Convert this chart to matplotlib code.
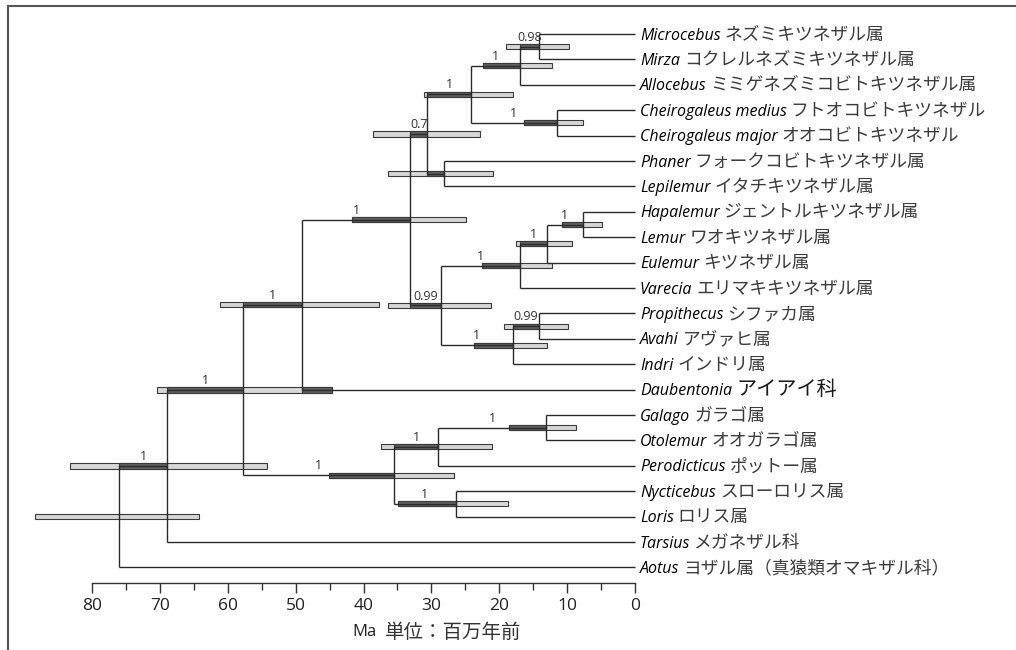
import matplotlib
matplotlib.use("Agg")
import matplotlib.pyplot as plt
from matplotlib.patches import Rectangle
from matplotlib.lines import Line2D
from matplotlib.ticker import FixedLocator

# ---------------- data ----------------
genus = ["Microcebus", "Mirza", "Allocebus", "Cheirogaleus medius",
         "Cheirogaleus major", "Phaner", "Lepilemur", "Hapalemur", "Lemur",
         "Eulemur", "Varecia", "Propithecus", "Avahi", "Indri", "Daubentonia",
         "Galago", "Otolemur", "Perodicticus", "Nycticebus", "Loris",
         "Tarsius", "Aotus"]
japanese = ["ネズミキツネザル属", "コクレルネズミキツネザル属",
            "ミミゲネズミコビトキツネザル属", "フトオコビトキツネザル",
            "オオコビトキツネザル", "フォークコビトキツネザル属",
            "イタチキツネザル属", "ジェントルキツネザル属", "ワオキツネザル属",
            "キツネザル属", "エリマキキツネザル属", "シファカ属", "アヴァヒ属",
            "インドリ属", "アイアイ科", "ガラゴ属", "オオガラゴ属", "ポットー属",
            "スローロリス属", "ロリス属", "メガネザル科",
            "ヨザル属（真猿類オマキザル科）"]

node_ids = ["n01", "n02", "n03", "n04", "n05", "n06", "n07", "n08", "n09",
            "n10", "n11", "n12", "n13", "n14", "n15", "n16", "n17", "n18",
            "n19", "n20", "n21"]
node_children = [("Microcebus", "Mirza"), ("n01", "Allocebus"),
                 ("Cheirogaleus medius", "Cheirogaleus major"), ("n02", "n03"),
                 ("Phaner", "Lepilemur"), ("n04", "n05"),
                 ("Hapalemur", "Lemur"), ("n07", "Eulemur"), ("n08", "Varecia"),
                 ("Propithecus", "Avahi"), ("n10", "Indri"), ("n09", "n11"),
                 ("n06", "n12"), ("n13", "Daubentonia"),
                 ("Galago", "Otolemur"), ("n15", "Perodicticus"),
                 ("Nycticebus", "Loris"), ("n16", "n17"), ("n14", "n18"),
                 ("n19", "Tarsius"), ("n20", "Aotus")]
node_age = [14.1, 16.9, 11.5, 24.2, 28.1, 30.6, 7.7, 13.0, 16.9, 14.1, 18.0,
            28.6, 33.1, 49.1, 13.1, 29.0, 26.4, 35.5, 57.8, 68.9, 76.0]
hpd_min = [9.7, 12.2, 7.7, 18.0, 20.9, 22.8, 4.9, 9.3, 12.2, 9.9, 13.0,
           21.2, 24.9, 37.7, 8.7, 21.1, 18.7, 26.7, 44.6, 54.2, 64.2]
hpd_max = [19.0, 22.4, 16.4, 31.1, 36.4, 38.6, 10.8, 17.5, 22.5, 19.3, 23.7,
           36.4, 41.7, 61.1, 18.6, 37.4, 34.9, 45.1, 70.4, 83.2, 88.4]
support = ["0.98", "1", "1", "1", "", "0.7", "1", "1", "1", "0.99", "1",
           "0.99", "1", "1", "1", "1", "1", "1", "1", "1", ""]

tick_values = [80, 70, 60, 50, 40, 30, 20, 10, 0]
minor_tick_values = [75, 65, 55, 45, 35, 25, 15, 5]
unit_label = "Ma"
unit_label_jp = "単位：百万年前"

# ---------------- style ----------------
JP = ["Noto Sans CJK JP", "DejaVu Sans"]
LAT = ["Open Sans", "DejaVu Sans"]
plt.rcParams["font.family"] = ["Open Sans", "Noto Sans CJK JP", "DejaVu Sans"]

W, H = 1016, 650
fig = plt.figure(figsize=(W / 100, H / 100), dpi=100)
fig.patch.set_facecolor("white")

ax_l, ax_r, ax_t, ax_b = 30, 640, 20, 583
ax = fig.add_axes([ax_l / W, 1 - ax_b / H, (ax_r - ax_l) / W, (ax_b - ax_t) / H])
px_per_ma = 543 / 80
tip_px = 635
ax.set_xlim((tip_px - ax_l) / px_per_ma, (tip_px - ax_r) / px_per_ma)
row_px, first_row = 25.4, 34
ax.set_ylim((ax_b - first_row) / row_px, (ax_t - first_row) / row_px)

LINE_C = "#2a2a2a"
EDGE_C = "#3a3a3a"

# ---------------- tree geometry ----------------
ypos = {g: float(i) for i, g in enumerate(genus)}
age = {g: 0.0 for g in genus}
parent = {}
for nid, (c1, c2), a in zip(node_ids, node_children, node_age):
    ypos[nid] = (ypos[c1] + ypos[c2]) / 2
    age[nid] = a
    parent[c1] = nid
    parent[c2] = nid

hsegs = []
for nid, (c1, c2) in zip(node_ids, node_children):
    ax.plot([age[nid], age[nid]], [ypos[c1], ypos[c2]], color=LINE_C, lw=1.0,
            zorder=4, solid_capstyle="butt")
    for c in (c1, c2):
        hsegs.append((age[nid], age[c], ypos[c]))
        ax.plot([age[nid], age[c]], [ypos[c], ypos[c]], color=LINE_C, lw=1.0,
                zorder=4, solid_capstyle="butt")

bar_h = 0.2
for nid, lo, hi in zip(node_ids, hpd_min, hpd_max):
    y = ypos[nid]
    ax.add_patch(Rectangle((lo, y - bar_h / 2), hi - lo, bar_h,
                           facecolor="#d6d6d6", edgecolor=EDGE_C, lw=0.8,
                           zorder=2))
    for x0, x1, sy in hsegs:
        if abs(sy - y) < bar_h / 2:
            a0 = max(min(x0, x1), lo)
            a1 = min(max(x0, x1), hi)
            if a1 > a0:
                ax.add_patch(Rectangle((a0, y - bar_h / 2), a1 - a0, bar_h,
                                       facecolor="#606060", edgecolor=EDGE_C,
                                       lw=0.8, zorder=3))

# support values at the middle of the incoming branch
for nid, s in zip(node_ids, support):
    if not s or nid not in parent:
        continue
    xm = (age[parent[nid]] + age[nid]) / 2
    ax.annotate(s, xy=(xm, ypos[nid]), xytext=(0, 4.2),
                textcoords="offset points", ha="center", va="baseline",
                fontsize=9, color="#333333", family=LAT, zorder=5)

# tip labels
gtexts = []
for i, g in enumerate(genus):
    t = ax.annotate(g, xy=(0, ypos[g]), xytext=(3.5, -4.0),
                    textcoords="offset points", ha="left", va="baseline",
                    fontsize=11.5, fontstyle="italic", family=LAT,
                    color="#000000", annotation_clip=False)
    gtexts.append(t)

fig.canvas.draw()
renderer = fig.canvas.get_renderer()
for i, (g, jp, t) in enumerate(zip(genus, japanese, gtexts)):
    bb = t.get_window_extent(renderer)
    x_tip = ax.transData.transform((0, ypos[g]))[0]
    dx_pt = (bb.x1 - x_tip) * 72 / fig.dpi + 3.0
    fs = 14.5 if g == "Daubentonia" else 12.8
    col = "#1a1a1a" if g == "Daubentonia" else "#3c3c3c"
    ax.annotate(jp, xy=(0, ypos[g]), xytext=(dx_pt, -4.0),
                textcoords="offset points", ha="left", va="baseline",
                fontsize=fs, family=JP, color=col,
                annotation_clip=False)

# ---------------- axis ----------------
for side in ("left", "right", "top"):
    ax.spines[side].set_visible(False)
ax.spines["bottom"].set_bounds(0, 80)
ax.spines["bottom"].set_color("#333333")
ax.spines["bottom"].set_linewidth(1.0)
ax.set_yticks([])
ax.set_xticks(tick_values)
ax.set_xticklabels([str(v) for v in tick_values], family=LAT, fontsize=12.5,
                   color="#222222")
ax.xaxis.set_minor_locator(FixedLocator(minor_tick_values))
ax.tick_params(axis="x", which="major", direction="out", length=7, width=1.0,
               color="#333333", pad=4)
ax.tick_params(axis="x", which="minor", direction="out", length=5, width=1.0,
               color="#333333")

fig.text(352 / W, 1 - 632 / H, unit_label, fontsize=12, family=LAT,
         va="center", ha="left", color="#222222")
fig.text(385 / W, 1 - 632 / H, unit_label_jp, fontsize=14, family=JP,
         va="center", ha="left", color="#333333")

# page frame (left and top rule)
fig.add_artist(Line2D([8 / W, 8 / W], [0, 1 - 6 / H], transform=fig.transFigure,
                      color="#555555", lw=1.5))
fig.add_artist(Line2D([8 / W, 1.0], [1 - 6 / H, 1 - 6 / H],
                      transform=fig.transFigure, color="#555555", lw=1.5))

fig.savefig("out.png", dpi=100, facecolor="white")
